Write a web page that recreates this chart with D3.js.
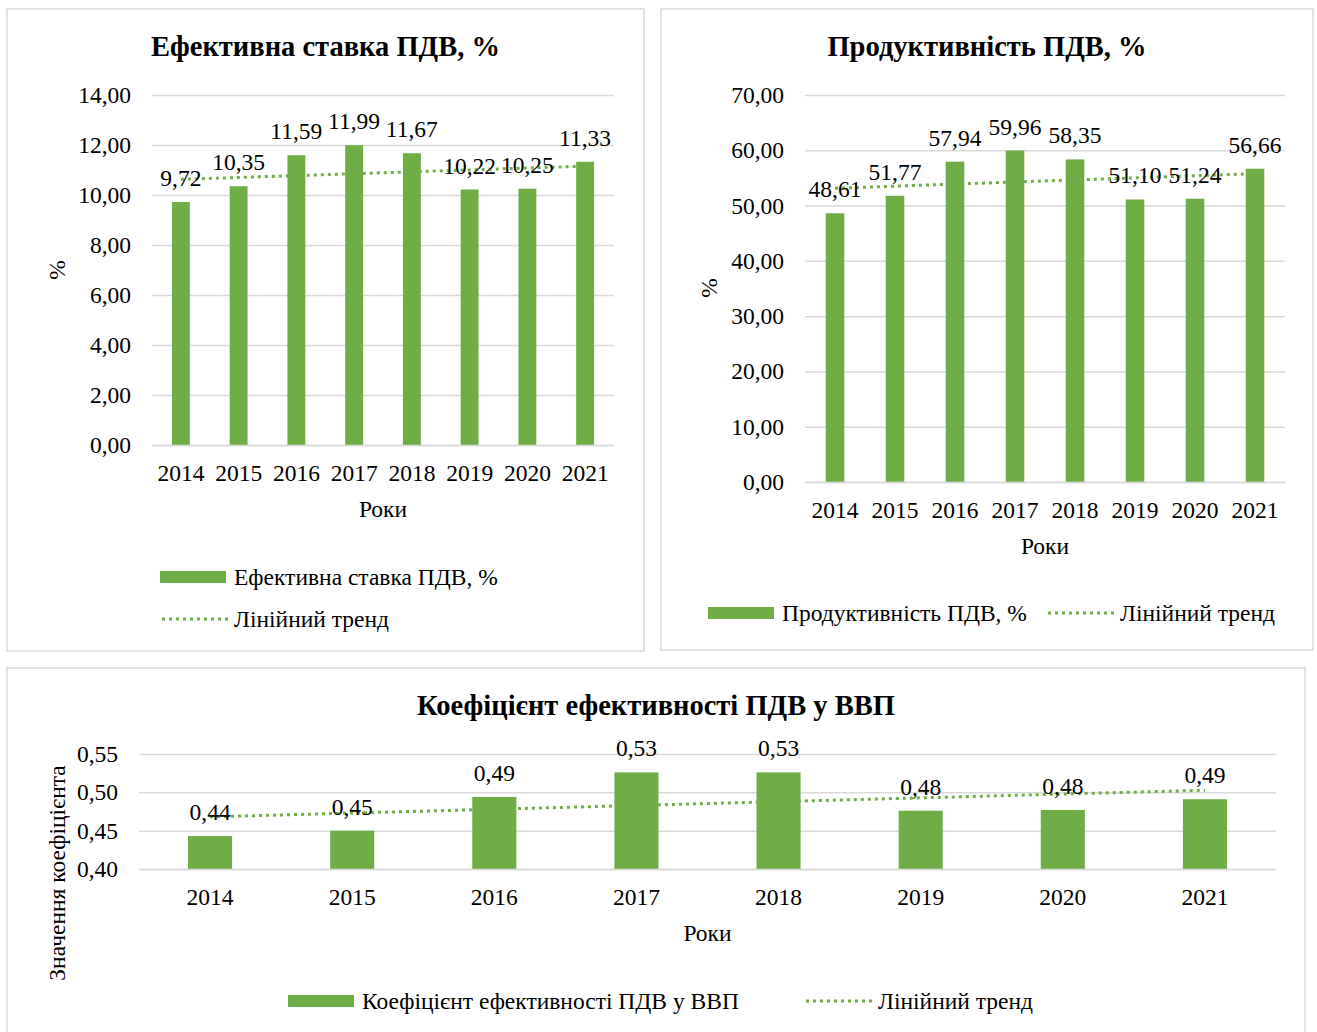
<!DOCTYPE html>
<html>
<head>
<meta charset="utf-8">
<script src="https://cdn.jsdelivr.net/npm/d3@7"></script>
<style>
  body { margin: 0; background: #fff; }
  svg, svg text { font-family: "Liberation Serif", "Times New Roman", serif; }
</style>
</head>
<body>
<svg id="chart" width="1317" height="1032"></svg>
<script>
// data
const years = ['2014', '2015', '2016', '2017', '2018', '2019', '2020', '2021'];
const vatRate = [9.72, 10.35, 11.59, 11.99, 11.67, 10.22, 10.25, 11.33];
const vatProductivity = [48.61, 51.77, 57.94, 59.96, 58.35, 51.10, 51.24, 56.66];
const vatGdpRatio = [0.443, 0.450, 0.494, 0.526, 0.526, 0.476, 0.477, 0.491];

const rateTicks = [0, 2, 4, 6, 8, 10, 12, 14];
const productivityTicks = [0, 10, 20, 30, 40, 50, 60, 70];
const ratioTicks = [0.40, 0.45, 0.50, 0.55];

const green = '#70ad47';
const grid = '#d9d9d9';
const fontSize = '23.5px';

const locale = d3.formatLocale({ decimal: ',', thousands: ' ', grouping: [3], currency: ['', ''] });
const fmt = locale.format('.2f');

const svg = d3.select('#chart');

// least squares line, like Excel's linear trendline
function trend(values) {
    const xs = values.map((d, i) => i + 1);
    const mx = d3.mean(xs), my = d3.mean(values);
    const slope = d3.sum(xs, (x, i) => (x - mx) * (values[i] - my)) / d3.sum(xs, x => (x - mx) * (x - mx));
    return xs.map(x => my + slope * (x - mx));
}

function drawChart(c) {
    const g = svg.append('g');

    g.append('rect')
        .attr('x', c.panel[0]).attr('y', c.panel[1])
        .attr('width', c.panel[2]).attr('height', c.panel[3])
        .attr('fill', '#fff').attr('stroke', grid).attr('stroke-width', 1.5);

    g.append('text')
        .attr('x', c.panel[0] + c.panel[2] / 2).attr('y', c.titleY)
        .attr('text-anchor', 'middle')
        .style('font-size', '28.5px').style('font-weight', 'bold')
        .text(c.title);

    const x = d3.scaleBand()
        .domain(years)
        .range([c.left, c.right])
        .paddingInner(0.69)
        .paddingOuter(0.345);

    const y = d3.scaleLinear()
        .domain(d3.extent(c.ticks))
        .range([c.bottom, c.top]);

    // gridlines + y labels
    const yAxis = g.append('g')
        .attr('transform', `translate(${c.left},0)`)
        .call(d3.axisLeft(y).tickValues(c.ticks).tickFormat(fmt)
            .tickSize(-(c.right - c.left)).tickPadding(21));
    yAxis.attr('font-family', null).attr('font-size', null);
    yAxis.select('.domain').remove();
    yAxis.selectAll('line').attr('stroke', grid).attr('stroke-width', 1.5);
    yAxis.selectAll('text').style('font-size', fontSize).attr('fill', '#000');

    // bars
    g.selectAll('rect.bar')
        .data(c.values)
        .enter().append('rect')
        .attr('class', 'bar')
        .attr('x', (d, i) => x(years[i]))
        .attr('y', d => y(d))
        .attr('width', x.bandwidth())
        .attr('height', d => c.bottom - y(d))
        .attr('fill', green);

    // x axis
    const xAxis = g.append('g')
        .attr('transform', `translate(0,${c.bottom})`)
        .call(d3.axisBottom(x).tickSize(0).tickPadding(19));
    xAxis.attr('font-family', null).attr('font-size', null);
    xAxis.select('.domain').attr('stroke', grid).attr('stroke-width', 1.5);
    xAxis.selectAll('text').style('font-size', fontSize).attr('fill', '#000');

    // trend line
    const t = trend(c.values);
    g.append('path')
        .attr('d', d3.line().x((d, i) => x(years[i]) + x.bandwidth() / 2).y(d => y(d))(t))
        .attr('fill', 'none')
        .attr('stroke', green)
        .attr('stroke-width', 3)
        .attr('stroke-dasharray', '3,4');

    // data labels
    g.selectAll('text.lbl')
        .data(c.values)
        .enter().append('text')
        .attr('class', 'lbl')
        .attr('x', (d, i) => x(years[i]) + x.bandwidth() / 2)
        .attr('y', d => y(d) - 16)
        .attr('text-anchor', 'middle')
        .style('font-size', fontSize)
        .text(d => fmt(d));

    // axis titles
    g.append('text')
        .attr('x', (c.left + c.right) / 2).attr('y', c.bottom + 72)
        .attr('text-anchor', 'middle')
        .style('font-size', fontSize)
        .text('Роки');

    g.append('text')
        .attr('transform', `translate(${c.yTitleX},${c.yTitleY}) rotate(-90)`)
        .attr('dy', '0.35em')
        .attr('text-anchor', 'middle')
        .style('font-size', fontSize)
        .text(c.yTitle);

    // legend
    c.legend.forEach(item => {
        if (item.type === 'bar') {
            g.append('rect')
                .attr('x', item.x).attr('y', item.y - 6)
                .attr('width', 66).attr('height', 12)
                .attr('fill', green);
        } else {
            g.append('line')
                .attr('x1', item.x + 2).attr('x2', item.x + 68)
                .attr('y1', item.y).attr('y2', item.y)
                .attr('stroke', green).attr('stroke-width', 3)
                .attr('stroke-dasharray', '3,4');
        }
        g.append('text')
            .attr('x', item.x + 74).attr('y', item.y)
            .attr('dy', '0.35em')
            .style('font-size', fontSize)
            .text(item.label);
    });
}

drawChart({
    panel: [7, 9, 637, 642],
    title: 'Ефективна ставка ПДВ, %',
    titleY: 56,
    left: 152, right: 614, top: 95, bottom: 445,
    values: vatRate,
    ticks: rateTicks,
    yTitle: '%', yTitleX: 57, yTitleY: 270,
    legend: [
        { type: 'bar', x: 160, y: 577, label: 'Ефективна ставка ПДВ, %' },
        { type: 'trend', x: 160, y: 619, label: 'Лінійний тренд' }
    ]
});

drawChart({
    panel: [661, 9, 652, 641],
    title: 'Продуктивність ПДВ, %',
    titleY: 56,
    left: 805, right: 1285, top: 95, bottom: 482,
    values: vatProductivity,
    ticks: productivityTicks,
    yTitle: '%', yTitleX: 709, yTitleY: 288,
    legend: [
        { type: 'bar', x: 708, y: 613, label: 'Продуктивність ПДВ, %' },
        { type: 'trend', x: 1046, y: 613, label: 'Лінійний тренд' }
    ]
});

drawChart({
    panel: [7, 668, 1298, 380],
    title: 'Коефіцієнт ефективності ПДВ у ВВП',
    titleY: 715,
    left: 139, right: 1276, top: 754, bottom: 869,
    values: vatGdpRatio,
    ticks: ratioTicks,
    yTitle: 'Значення коефіцієнта', yTitleX: 57, yTitleY: 873,
    legend: [
        { type: 'bar', x: 288, y: 1001, label: 'Коефіцієнт ефективності ПДВ у ВВП' },
        { type: 'trend', x: 804, y: 1001, label: 'Лінійний тренд' }
    ]
});
</script>
</body>
</html>
